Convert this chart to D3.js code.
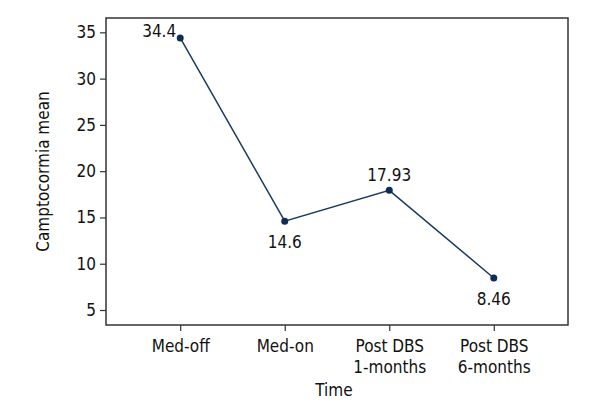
<!DOCTYPE html>
<html>
<head>
<meta charset="utf-8">
<script src="https://cdn.jsdelivr.net/npm/d3@7"></script>
<style>
  body { margin: 0; background: #fff; }
  svg text { font-family: "Liberation Sans Narrow", "DejaVu Sans Condensed", sans-serif; fill: #111; }
</style>
</head>
<body>
<svg width="600" height="420"></svg>
<script>
const categories = [["Med-off"], ["Med-on"], ["Post DBS", "1-months"], ["Post DBS", "6-months"]];
const values = [34.4, 14.6, 17.93, 8.46];
const valueLabels = ["34.4", "14.6", "17.93", "8.46"];
const labelSide = ["left", "below", "above", "below"];
const yTicks = [5, 10, 15, 20, 25, 30, 35];

const margin = { top: 18, right: 32, bottom: 95, left: 106 };
const width = 600, height = 420;

const svg = d3.select("svg");
const keys = categories.map((c, i) => i);

const x = d3.scalePoint()
  .domain(keys)
  .range([margin.left, width - margin.right])
  .padding(0.71);

const y = d3.scaleLinear()
  .domain([3.38, 36.55])
  .range([height - margin.bottom, margin.top]);

// frame
svg.append("rect")
  .attr("x", margin.left)
  .attr("y", margin.top)
  .attr("width", width - margin.right - margin.left)
  .attr("height", height - margin.bottom - margin.top)
  .attr("fill", "none")
  .attr("stroke", "#333")
  .attr("stroke-width", 1.5);

// y axis
const yAxis = svg.append("g")
  .attr("transform", `translate(${margin.left},0)`)
  .call(d3.axisLeft(y).tickValues(yTicks).tickSize(6).tickPadding(4));
yAxis.select(".domain").remove();
yAxis.selectAll("line").attr("stroke", "#333").attr("stroke-width", 1.2);
yAxis.selectAll("text").style("font-size", "17px").attr("fill", "#111");

// x axis
const xAxis = svg.append("g")
  .attr("transform", `translate(0,${height - margin.bottom})`)
  .call(d3.axisBottom(x).tickSize(6).tickFormat(""));
xAxis.select(".domain").remove();
xAxis.selectAll("line").attr("stroke", "#333").attr("stroke-width", 1.2);
xAxis.selectAll(".tick").each(function(d) {
  const t = d3.select(this).append("text")
    .attr("text-anchor", "middle")
    .style("font-size", "17px")
    .attr("fill", "#111");
  categories[d].forEach((line, j) => {
    t.append("tspan").attr("x", 0).attr("y", 27 + j * 21).text(line);
  });
});

// axis titles
svg.append("text")
  .attr("x", (margin.left + width - margin.right) / 2 - 3)
  .attr("y", 396)
  .attr("text-anchor", "middle")
  .style("font-size", "17px")
  .text("Time");

svg.append("text")
  .attr("transform", `translate(49,${(margin.top + height - margin.bottom) / 2}) rotate(-90)`)
  .attr("text-anchor", "middle")
  .style("font-size", "17px")
  .text("Camptocormia mean");

// line
const line = d3.line()
  .x((d, i) => x(i))
  .y(d => y(d));

svg.append("path")
  .datum(values)
  .attr("d", line)
  .attr("fill", "none")
  .attr("stroke", "#1b3a60")
  .attr("stroke-width", 1.5);

svg.selectAll("circle.pt")
  .data(values)
  .enter()
  .append("circle")
  .attr("class", "pt")
  .attr("cx", (d, i) => x(i))
  .attr("cy", d => y(d))
  .attr("r", 3.5)
  .attr("fill", "#0f2c55");

svg.selectAll("text.val")
  .data(values)
  .enter()
  .append("text")
  .attr("class", "val")
  .attr("x", (d, i) => labelSide[i] === "left" ? x(i) - 4 : x(i))
  .attr("y", (d, i) => labelSide[i] === "left" ? y(d) - 1 : labelSide[i] === "above" ? y(d) - 9 : y(d) + 27)
  .attr("text-anchor", (d, i) => labelSide[i] === "left" ? "end" : "middle")
  .style("font-size", "17px")
  .text((d, i) => valueLabels[i]);
</script>
</body>
</html>
